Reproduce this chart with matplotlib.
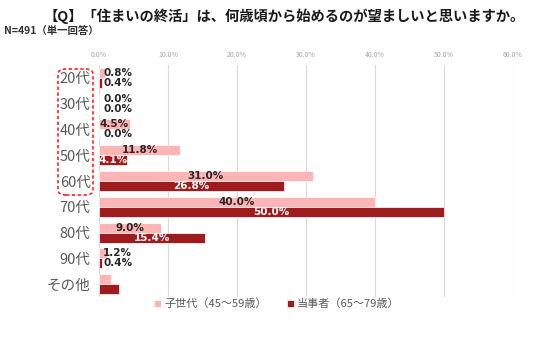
import matplotlib.pyplot as plt
from matplotlib.patches import FancyBboxPatch

plt.rcParams['font.family'] = ['Noto Sans CJK JP', 'DejaVu Sans']

# data
categories = ['20代', '30代', '40代', '50代', '60代', '70代', '80代', '90代', 'その他']
children = [0.8, 0.0, 4.5, 11.8, 31.0, 40.0, 9.0, 1.2, 1.7]
seniors = [0.4, 0.0, 0.0, 4.1, 26.8, 50.0, 15.4, 0.4, 2.9]
show_label = [True, True, True, True, True, True, True, True, False]
xticks = [0, 10, 20, 30, 40, 50, 60]

pink = '#FFB5B5'
dark = '#9E1B1E'
h = 0.39

fig = plt.figure(figsize=(5.36, 3.38), dpi=100)
ax = fig.add_axes([0.1847, 0.121, 0.7723, 0.687])

ys = list(range(len(categories)))
ax.barh([y - h / 2 for y in ys], children, height=h, color=pink, edgecolor='white', linewidth=0.5,
        label='子世代（45～59歳）', zorder=2)
ax.barh([y + h / 2 for y in ys], seniors, height=h, color=dark, edgecolor='white', linewidth=0.5,
        label='当事者（65～79歳）', zorder=2)

for y, c, s, show in zip(ys, children, seniors, show_label):
    if not show:
        continue
    xc = c / 2 if c >= 3 else 2.7
    ax.text(xc, y - h / 2, f'{c:.1f}%', ha='center', va='center', fontsize=7.5,
            family='DejaVu Sans', color='#262626', fontweight='bold', zorder=3)
    xs = s / 2 if s >= 3 else 2.7
    col = 'white' if s >= 3 else '#262626'
    ax.text(xs, y + h / 2, f'{s:.1f}%', ha='center', va='center', fontsize=7.5,
            family='DejaVu Sans', color=col, fontweight='bold', zorder=3)

ax.set_xlim(0, 60)
ax.set_ylim(len(categories) - 0.5, -0.5)
ax.set_xticks(xticks)
ax.set_xticklabels([f'{t:.1f}%' for t in xticks], fontsize=5, color='#A6A6A6')
ax.xaxis.tick_top()
ax.tick_params(axis='x', length=0, pad=4)
ax.set_yticks(ys)
ax.set_yticklabels(categories, fontsize=10.5, color='#595959')
ax.tick_params(axis='y', length=0, pad=6)
ax.grid(axis='x', color='#D9D9D9', linewidth=0.8, zorder=0)
for sp in ax.spines.values():
    sp.set_visible(False)

ax.legend(loc='center', bbox_to_anchor=(0.43, -0.03), ncol=2, frameon=False,
          fontsize=8, labelcolor='#595959', handlelength=0.6, handleheight=0.6,
          columnspacing=1.8, handletextpad=0.3)

fig.text(0.53, 0.952, '【Q】「住まいの終活」は、何歳頃から始めるのが望ましいと思いますか。',
         ha='center', va='center', fontsize=10.3, fontweight='bold', color='#1a1a1a')
fig.text(0.008, 0.905, 'N=491（単一回答）', ha='left', va='center', fontsize=7.5,
         fontweight='bold', color='#333333')

box = FancyBboxPatch((58 / 536, 1 - 195 / 338), 35 / 536, 126 / 338,
                     boxstyle='round,pad=0,rounding_size=0.015', transform=fig.transFigure,
                     fill=False, edgecolor='#FF2020', linestyle=(0, (2, 1.5)), linewidth=1.2)
fig.patches.append(box)

fig.savefig('out.png', dpi=100)
